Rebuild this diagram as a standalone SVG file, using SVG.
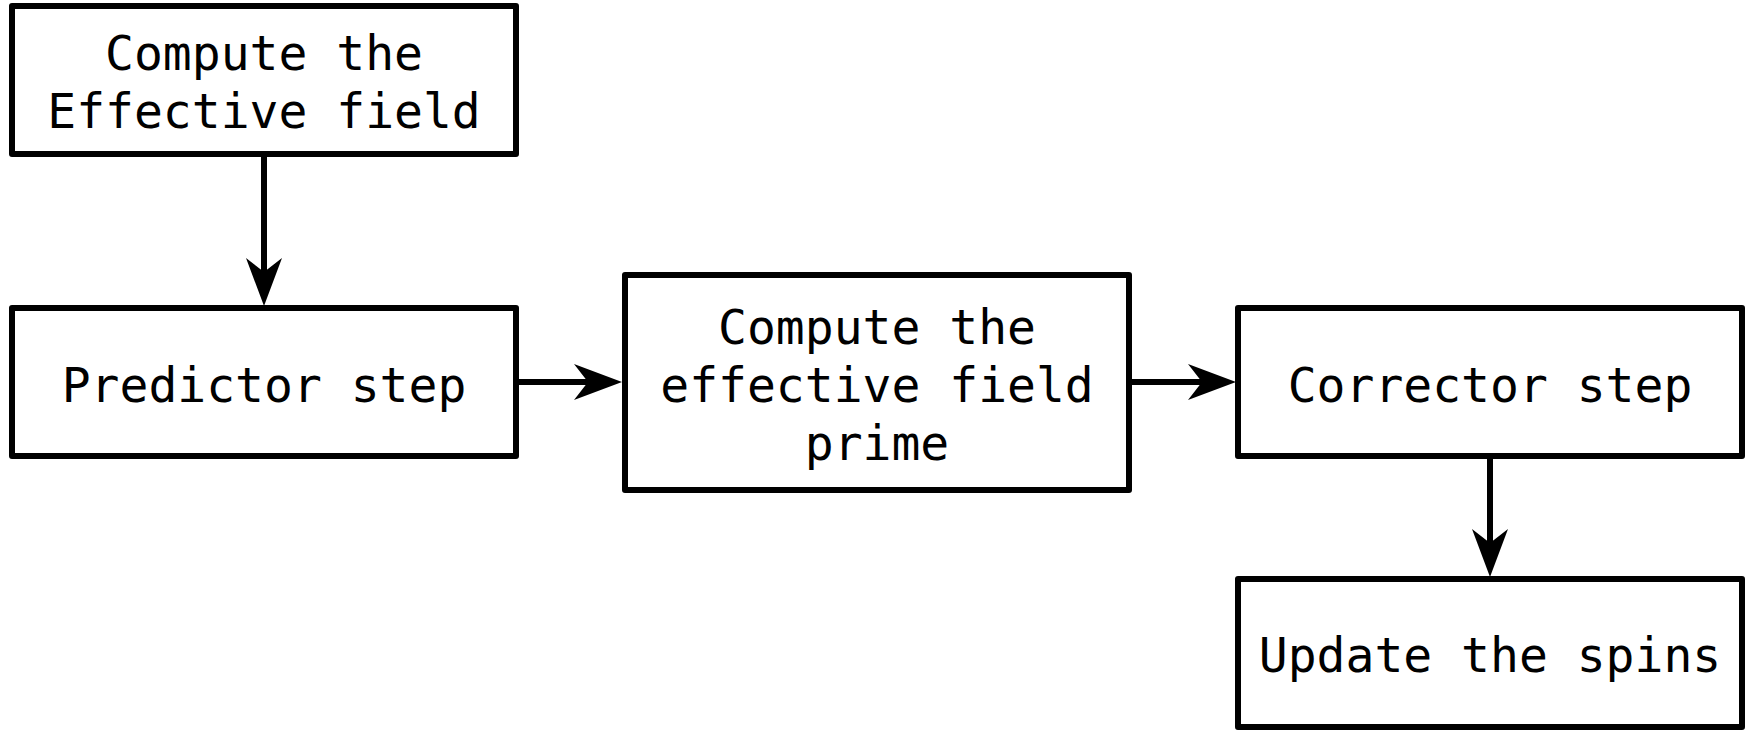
<svg xmlns="http://www.w3.org/2000/svg" width="1746" height="731" viewBox="0 0 1746 731">
  <defs>
    <style>
      .box { fill: #ffffff; stroke: #000000; stroke-width: 6; stroke-linejoin: round; }
      .lbl { font-family: "DejaVu Sans Mono", "Liberation Mono", monospace; font-size: 48px; fill: #000000; text-anchor: middle; }
      .edge { fill: none; stroke: #000000; stroke-width: 6; marker-end: url(#arrow); }
    </style>
    <marker id="arrow" markerUnits="userSpaceOnUse" markerWidth="60" markerHeight="44" viewBox="-20 -22 60 44" refX="0" refY="0" orient="auto">
      <path d="M34,0 L-14,-18 L0,0 L-14,18 Z" fill="#000000"/>
    </marker>
  </defs>
  <rect width="1746" height="731" fill="#ffffff"/>
  <g id="connectors">
    <path class="edge" d="M264,154 L264,272"/>
    <path class="edge" d="M516,382 L588,382"/>
    <path class="edge" d="M1129,382 L1202,382"/>
    <path class="edge" d="M1490,456 L1490,543"/>
  </g>
  <g id="node-compute-effective-field">
    <rect class="box" x="12" y="6" width="504" height="148"/>
    <text class="lbl" x="264" y="70">Compute the</text>
    <text class="lbl" x="264" y="128">Effective field</text>
  </g>
  <g id="node-predictor-step">
    <rect class="box" x="12" y="308" width="504" height="148"/>
    <text class="lbl" x="264" y="402">Predictor step</text>
  </g>
  <g id="node-compute-effective-field-prime">
    <rect class="box" x="625" y="275" width="504" height="215"/>
    <text class="lbl" x="877" y="344">Compute the</text>
    <text class="lbl" x="877" y="402">effective field</text>
    <text class="lbl" x="877" y="460">prime</text>
  </g>
  <g id="node-corrector-step">
    <rect class="box" x="1238" y="308" width="504" height="148"/>
    <text class="lbl" x="1490" y="402">Corrector step</text>
  </g>
  <g id="node-update-spins">
    <rect class="box" x="1238" y="579" width="504" height="148"/>
    <text class="lbl" x="1490" y="672">Update the spins</text>
  </g>
</svg>
